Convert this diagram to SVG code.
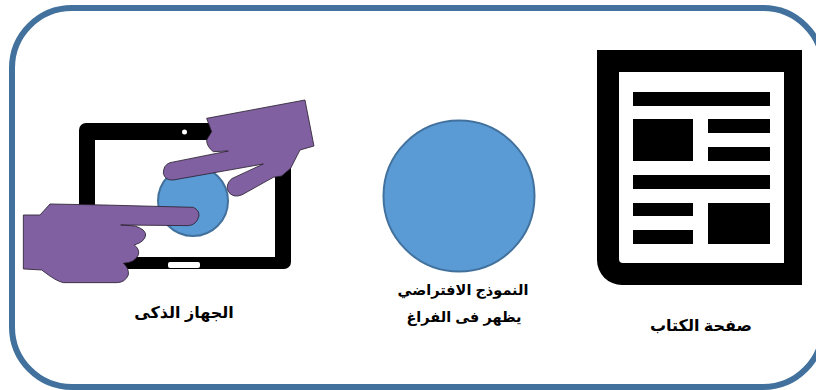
<svg xmlns="http://www.w3.org/2000/svg" width="816" height="390" viewBox="0 0 816 390">
<style>
.lbl{font-family:"Liberation Sans","DejaVu Sans",sans-serif;font-weight:700;font-size:16px;fill:#000;text-anchor:middle;direction:rtl}
.mid{font-size:14.5px}
.blue{fill:#5b9bd5;stroke:#41719c;stroke-width:2}
.hand{fill:#8060a0;stroke:#2a2030;stroke-width:2.5;stroke-linejoin:round}
.blk{fill:#000}
</style>
<rect width="816" height="390" fill="#fff"/>
<rect id="frame" x="12" y="8" width="811" height="379" rx="60" ry="60" fill="#fff" stroke="#41719c" stroke-width="6"/>
<g id="device">
<rect x="79" y="123" width="212" height="146" rx="7" class="blk"/>
<rect x="95" y="140" width="180" height="117" fill="#fff"/>
<circle cx="184.5" cy="132" r="2.5" fill="#fff"/>
<rect x="168" y="262" width="32" height="6" rx="2" fill="#fff"/>
<circle cx="193" cy="201" r="35" class="blue"/>
<path class="hand" transform="translate(0,90) scale(.3333)" d="M620,85 L915,30 L942,168 L900,180 L872,235 L845,258 L820,262 L725,315 Q700,325 685,305 Q675,285 695,266 L790,222 L520,270 Q495,272 490,250 Q490,225 510,218 L685,183 L640,185 Q620,170 620,150 L635,125 Z"/>
<path class="hand" transform="translate(0,90) scale(.3333)" d="M70,375 L120,375 L150,342 L310,345 L580,352 Q598,360 597,378 Q590,405 565,407 L362,405 L405,408 Q437,418 437,435 Q435,455 403,465 Q420,478 415,495 Q405,518 370,520 Q388,535 385,555 Q375,578 350,578 L190,578 Q170,575 125,540 L70,537 Z"/>
<text class="lbl" x="184" y="318">الجهاز الذكى</text>
</g>
<g id="model">
<circle cx="459" cy="196" r="75.5" class="blue"/>
<text class="lbl mid" x="463" y="295">النموذج الافتراضي</text>
<text class="lbl mid" x="464" y="322">يظهر فى الفراغ</text>
</g>
<g id="page">
<path class="blk" d="M597,50 H802 V285 H622 A25,25 0 0 1 597,260 Z"/>
<path fill="#fff" d="M619,72 H784 V263 H623 Q619,263 619,259 Z"/>
<path class="blk" d="M633,92 H770 V106 H633 Z M633,119 H693 V161 H633 Z M708,119 H770 V133 H708 Z M708,147 H770 V161 H708 Z M633,175 H770 V189 H633 Z M633,203 H693 V216 H633 Z M633,230 H693 V244 H633 Z M708,203 H770 V244 H708 Z"/>
<text class="lbl" x="701" y="331">صفحة الكتاب</text>
</g>
<g id="connectors"></g>
</svg>
